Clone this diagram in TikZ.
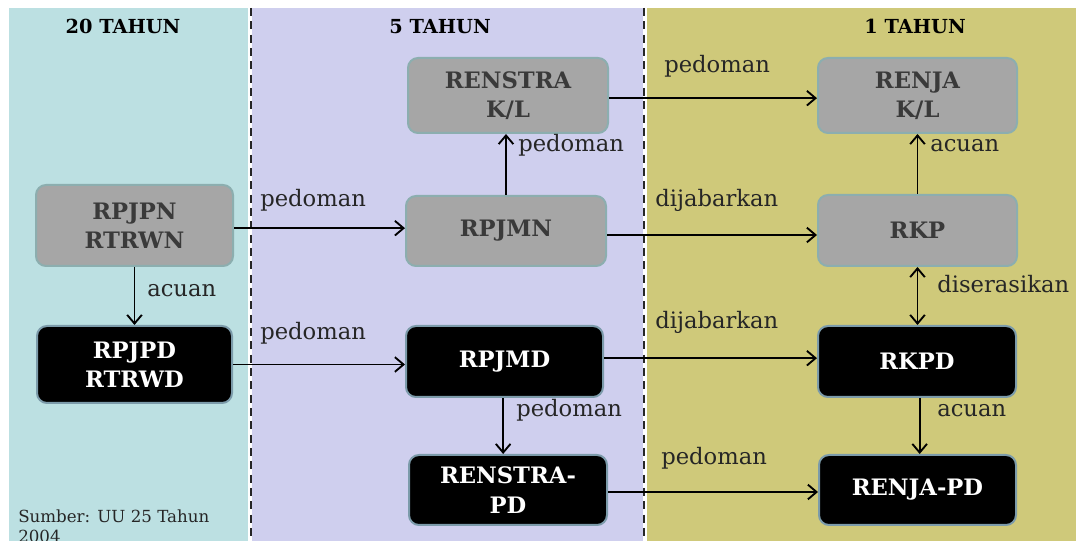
\documentclass[tikz,border=0pt]{standalone}
\usepackage{fontspec}
\setmainfont{DejaVu Serif}
\usetikzlibrary{arrows.meta}
\definecolor{bgcyan}{HTML}{BCE0E2}
\definecolor{bglav}{HTML}{CFCFEE}
\definecolor{bgolive}{HTML}{CFC97A}
\definecolor{boxgray}{HTML}{A6A6A6}
\definecolor{graybord}{HTML}{8CAEAF}
\definecolor{blackbord}{HTML}{7C9BAA}
\definecolor{graytext}{HTML}{3A3A3A}
\begin{document}
\begin{tikzpicture}[x=0.75pt,y=-0.75pt,
  basebox/.style={rectangle, rounded corners=7.5pt, line width=1.5pt, align=center,
    inner sep=0pt, minimum width=148pt, minimum height=53pt,
    font=\fontsize{17}{22}\selectfont\bfseries},
  graybox/.style={basebox, fill=boxgray, draw=graybord, text=graytext},
  blackbox/.style={basebox, fill=black, draw=blackbord, text=white},
  lbl/.style={anchor=base west, inner sep=0pt, font=\fontsize{17}{20}\selectfont, text=black!85},
  hdr/.style={anchor=base, inner sep=0pt, font=\fontsize{14.5}{17}\selectfont\bfseries},
  conn/.style={line width=1.4pt, -{Straight Barb[length=6.5pt,width=11pt,line width=1.4pt]}},
  dconn/.style={line width=1.4pt, {Straight Barb[length=6.5pt,width=11pt,line width=1.4pt]}-{Straight Barb[length=6.5pt,width=11pt,line width=1.4pt]}}
]
\useasboundingbox (0,0) rectangle (1079,541);
% backgrounds
\fill[white] (0,0) rectangle (1079,541);
\fill[bgcyan] (9,8) rectangle (251,541);
\fill[bglav] (251,8) rectangle (645,541);
\fill[bgolive] (645,8) rectangle (1076,541);
\draw[white, line width=3pt] (250,8) -- (250,541);
\draw[white, line width=3pt] (645,8) -- (645,541);
\draw[black!85, line width=1.5pt, dash pattern=on 6pt off 4pt] (251,8) -- (251,541);
\draw[black!85, line width=1.5pt, dash pattern=on 6pt off 4pt] (644,8) -- (644,541);

% headers
\node[hdr] (h20) at (123,34) {20 TAHUN};
\node[hdr] (h5) at (440,34) {5 TAHUN};
\node[hdr] (h1) at (915,34) {1 TAHUN};

% boxes
\node[graybox, minimum width=147.75pt, minimum height=60.75pt] (rpjpn) at (134.5,225.5) {RPJPN\\RTRWN};
\node[blackbox, minimum width=146.25pt, minimum height=57.75pt] (rpjpd) at (134.5,364.5) {RPJPD\\RTRWD};
\node[graybox, minimum width=150pt, minimum height=56.25pt] (renstrakl) at (508,95.5) {RENSTRA\\K/L};
\node[graybox, minimum width=150pt, minimum height=52.5pt] (rpjmn) at (506,231) {RPJMN};
\node[blackbox, minimum width=147.75pt, minimum height=53.25pt] (rpjmd) at (504.5,361.5) {RPJMD};
\node[blackbox, minimum width=148.5pt, minimum height=52.5pt] (renstrapd) at (508,490) {RENSTRA-\\PD};
\node[graybox, minimum width=149.25pt, minimum height=56.25pt] (renjakl) at (917.5,95.5) {RENJA\\K/L};
\node[graybox, minimum width=149.25pt, minimum height=53.25pt] (rkp) at (917.5,230.5) {RKP};
\node[blackbox, minimum width=148.5pt, minimum height=53.25pt] (rkpd) at (917,361.5) {RKPD};
\node[blackbox, minimum width=147.75pt, minimum height=52.5pt] (renjapd) at (917.5,490) {RENJA-PD};

% connectors
\draw[conn] ([yshift=-2pt]rpjpn.east) -- ([yshift=-2pt]rpjpn.east -| rpjmn.west);
\draw[conn] (rpjpn.south) -- (rpjpn.south |- rpjpd.north);
\draw[conn] (rpjpd.east) -- (rpjpd.east -| rpjmd.west);
\draw[conn] (rpjmn.north) -- (rpjmn.north |- renstrakl.south);
\draw[conn] ([yshift=-2pt]renstrakl.east) -- ([yshift=-2pt]renstrakl.east -| renjakl.west);
\draw[conn] ([yshift=-3pt]rpjmn.east) -- ([yshift=-3pt]rpjmn.east -| rkp.west);
\draw[conn] (rkp.north) -- (rkp.north |- renjakl.south);
\draw[dconn] (rkp.south) -- (rkp.south |- rkpd.north);
\draw[conn] ([yshift=2.5pt]rpjmd.east) -- ([yshift=2.5pt]rpjmd.east -| rkpd.west);
\draw[conn] ([xshift=-1pt]rpjmd.south) -- ([xshift=-1pt]rpjmd.south |- renstrapd.north);
\draw[conn] ([xshift=2pt]rkpd.south) -- ([xshift=2pt]rkpd.south |- renjapd.north);
\draw[conn] ([yshift=-1.5pt]renstrapd.east) -- ([yshift=-1.5pt]renstrapd.east -| renjapd.west);

% labels
\node[lbl] (l1) at (260,207) {pedoman};
\node[lbl] (l2) at (147,297) {acuan};
\node[lbl] (l3) at (260,340) {pedoman};
\node[lbl] (l4) at (518,152) {pedoman};
\node[lbl] (l5) at (664,73) {pedoman};
\node[lbl] (l6) at (655,207) {dijabarkan};
\node[lbl] (l7) at (930,152) {acuan};
\node[lbl] (l8) at (937,293) {diserasikan};
\node[lbl] (l9) at (655,329) {dijabarkan};
\node[lbl] (l10) at (516,417) {pedoman};
\node[lbl] (l11) at (937,417) {acuan};
\node[lbl] (l12) at (661,465) {pedoman};

% source
\node[anchor=base west, inner sep=0pt, align=left, font=\fontsize{12.5}{15}\selectfont, text=black!85] (src) at (18,543) {Sumber: UU 25 Tahun\\2004};
\end{tikzpicture}
\end{document}
